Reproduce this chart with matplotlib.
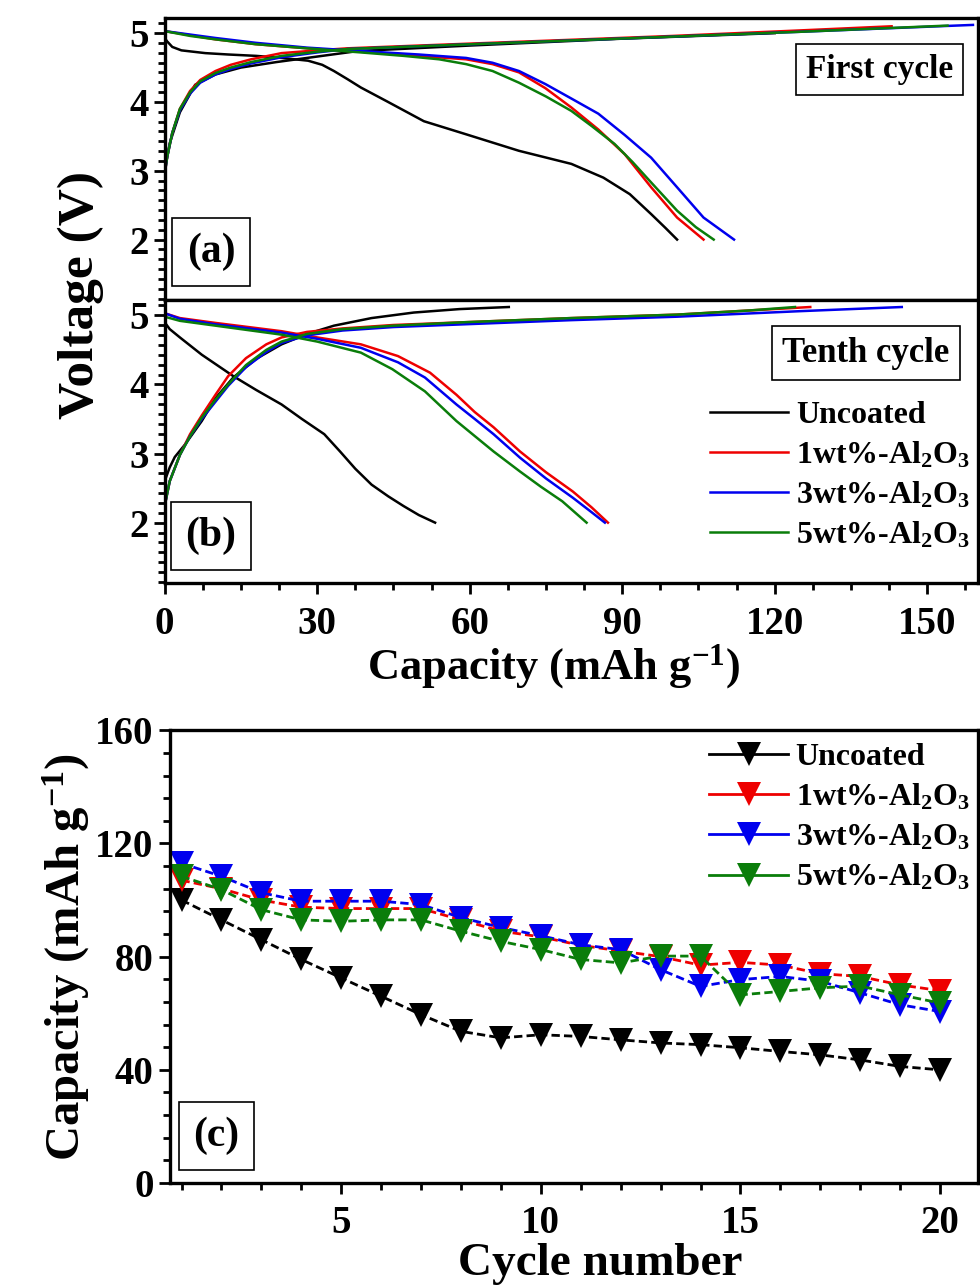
import matplotlib
matplotlib.use("Agg")
import matplotlib.pyplot as plt
from matplotlib.lines import Line2D
from matplotlib.ticker import MultipleLocator, AutoMinorLocator

# ---- data ----
labels = ["Uncoated", r"1wt%-Al$_2$O$_3$", r"3wt%-Al$_2$O$_3$", r"5wt%-Al$_2$O$_3$"]
colors = ["black", "#ee0000", "#0000ee", "#0a7d0a"]

# (a) first cycle, charge curves
a_chg_cap_unc = [0, 1, 3, 6, 10, 15, 22, 30, 38, 60, 90, 120]
a_chg_v_unc = [3.0, 3.4, 3.85, 4.25, 4.4, 4.5, 4.58, 4.66, 4.74, 4.82, 4.92, 5.0]
a_chg_cap_1 = [0, 0.5, 1.5, 3, 5, 7, 10, 13, 17, 23, 30, 36, 50, 75, 100, 125, 143]
a_chg_v_1 = [2.95, 3.2, 3.55, 3.9, 4.16, 4.32, 4.45, 4.54, 4.62, 4.71, 4.75, 4.78, 4.82, 4.89, 4.96, 5.04, 5.1]
a_chg_cap_3 = [0, 0.5, 1.5, 3, 5, 7, 10, 13, 17, 23, 30, 36, 50, 75, 100, 125, 159]
a_chg_v_3 = [2.95, 3.2, 3.55, 3.88, 4.12, 4.28, 4.4, 4.48, 4.56, 4.65, 4.72, 4.77, 4.81, 4.88, 4.95, 5.02, 5.12]
a_chg_cap_5 = [0, 0.5, 1.5, 3, 5, 7, 10, 13, 17, 23, 30, 36, 50, 75, 100, 125, 154]
a_chg_v_5 = [2.95, 3.2, 3.55, 3.9, 4.14, 4.3, 4.42, 4.5, 4.58, 4.67, 4.73, 4.77, 4.81, 4.88, 4.95, 5.02, 5.11]

# (a) first cycle, discharge curves
a_dis_cap_unc = [0, 0.5, 1.5, 3.3, 8, 12.5, 18, 23, 28.2, 31, 33.3, 36, 38.6, 43.7, 51, 59.3,
                 69.7, 80, 86.3, 91.5, 95.7, 98.5, 100.8]
a_dis_v_unc = [4.93, 4.88, 4.8, 4.75, 4.71, 4.69, 4.67, 4.64, 4.6, 4.54, 4.45, 4.33, 4.21, 4.01, 3.72, 3.53,
               3.29, 3.1, 2.9, 2.66, 2.37, 2.17, 2.0]
a_dis_cap_1 = [0, 5, 10, 17.9, 28, 38.6, 50, 59.3, 64.5, 69.7, 74.9, 80, 85.3, 90.5, 95.7, 100.8, 106]
a_dis_v_1 = [5.03, 4.97, 4.91, 4.84, 4.78, 4.73, 4.67, 4.62, 4.55, 4.43, 4.2, 3.92, 3.6, 3.24, 2.76, 2.32, 2.0]
a_dis_cap_3 = [0, 5, 10, 17.9, 28, 38.6, 50, 59.3, 64.5, 69.7, 74.9, 80, 85.3, 90.5, 95.7, 100.8, 106, 112]
a_dis_v_3 = [5.03, 4.98, 4.93, 4.86, 4.79, 4.74, 4.69, 4.64, 4.57, 4.45, 4.26, 4.05, 3.83, 3.52, 3.19, 2.76, 2.32, 2.0]
a_dis_cap_5 = [0, 5, 10, 17.9, 28, 38.6, 47, 54, 59.3, 64.5, 69.7, 75, 80, 84, 88.5, 92, 95.7, 100.8, 104.5, 108]
a_dis_v_5 = [5.03, 4.96, 4.91, 4.84, 4.78, 4.72, 4.67, 4.62, 4.55, 4.45, 4.28, 4.08, 3.87, 3.65, 3.39, 3.13,
             2.83, 2.42, 2.18, 2.0]

# (b) tenth cycle, charge curves
b_chg_cap_unc = [0, 1, 2, 4, 7.3, 10, 13.5, 18, 23, 28, 33.3, 40.7, 49, 58, 67.7]
b_chg_v_unc = [2.6, 2.8, 2.95, 3.13, 3.47, 3.8, 4.1, 4.37, 4.58, 4.73, 4.85, 4.96, 5.04, 5.09, 5.12]
b_chg_cap_1 = [0, 1, 3, 5, 7.3, 10, 12.5, 16, 20, 23, 28, 35, 45, 59, 80, 100.8, 115, 127]
b_chg_v_1 = [2.24, 2.6, 2.98, 3.28, 3.55, 3.85, 4.12, 4.38, 4.58, 4.68, 4.76, 4.81, 4.86, 4.9, 4.96, 5.01, 5.07, 5.12]
b_chg_cap_3 = [0, 1, 3, 5, 7.3, 10, 12.5, 16, 20, 23, 28, 35, 45, 59, 80, 100.8, 125, 145]
b_chg_v_3 = [2.24, 2.6, 2.98, 3.25, 3.5, 3.75, 3.98, 4.25, 4.47, 4.6, 4.71, 4.78, 4.83, 4.87, 4.93, 4.98, 5.06, 5.12]
b_chg_cap_5 = [0, 1, 3, 5, 7.3, 10, 12.5, 16, 20, 23, 28, 35, 45, 59, 80, 100.8, 115, 124]
b_chg_v_5 = [2.24, 2.6, 2.98, 3.25, 3.52, 3.78, 4.0, 4.28, 4.5, 4.62, 4.73, 4.8, 4.85, 4.9, 4.96, 5.01, 5.07, 5.12]

# (b) tenth cycle, discharge curves
b_dis_cap_unc = [0, 1, 3, 7.3, 13.5, 18, 23, 27, 31.4, 34.5, 37.5, 40.7, 44, 47, 50, 53.2]
b_dis_v_unc = [4.9, 4.8, 4.68, 4.43, 4.12, 3.92, 3.71, 3.5, 3.28, 3.03, 2.78, 2.55, 2.38, 2.24, 2.11, 2.0]
b_dis_cap_1 = [0, 3, 10, 23, 30, 38.6, 45.9, 52.2, 57.4, 61, 64.7, 69.9, 75, 80.3, 84, 87.2]
b_dis_v_1 = [5.03, 4.96, 4.89, 4.77, 4.68, 4.58, 4.41, 4.17, 3.85, 3.6, 3.38, 3.03, 2.73, 2.45, 2.22, 2.0]
b_dis_cap_3 = [0, 3, 10, 23, 30, 38.6, 45.9, 51.2, 57.4, 61, 64.7, 69.9, 75, 80.3, 84, 86.6]
b_dis_v_3 = [5.03, 4.95, 4.87, 4.75, 4.66, 4.53, 4.32, 4.1, 3.71, 3.5, 3.28, 2.94, 2.64, 2.36, 2.15, 2.0]
b_dis_cap_5 = [0, 3, 10, 23, 30, 38.6, 44.8, 51.2, 57.4, 64.7, 69.9, 74, 78.2, 83]
b_dis_v_5 = [4.98, 4.92, 4.85, 4.72, 4.62, 4.46, 4.22, 3.9, 3.47, 3.03, 2.74, 2.52, 2.31, 2.0]

# (c) cycling
cycles = list(range(1, 21))
cap_unc = [100, 93, 86, 79, 72.5, 66, 59.5, 53.6, 51.3, 52.4, 51.8, 50.6, 49.5, 48.9, 47.8, 46.5, 45.3, 43.5, 41.2, 40]
cap_1 = [107, 104, 100, 97.5, 97, 97, 97, 93, 89, 87, 84, 82, 80, 77, 78, 77, 74, 73, 70, 68]
cap_3 = [113, 108.4, 102.6, 99.6, 99.6, 99.6, 98.4, 93.8, 90.3, 87.4, 84.2, 82.5, 75.4, 69.5, 71.9, 73, 71.3, 67.2, 63, 60.6]
cap_5 = [108.4, 103.7, 96.6, 93, 92.5, 93, 93, 89, 85.4, 82.5, 79, 77.8, 80.2, 80.2, 66.5, 67.7, 69, 69.6, 66.5, 63.6]

plt.rcParams["font.family"] = ["Liberation Serif", "DejaVu Serif"]
plt.rcParams["font.weight"] = "bold"
plt.rcParams["mathtext.fontset"] = "custom"
plt.rcParams["mathtext.rm"] = "Liberation Serif:bold"
plt.rcParams["mathtext.it"] = "Liberation Serif:bold"
plt.rcParams["mathtext.bf"] = "Liberation Serif:bold"
plt.rcParams["axes.linewidth"] = 2.4


def style_axis(ax, fs=28):
    ax.tick_params(which="both", direction="out", width=2, labelsize=fs)
    ax.tick_params(which="major", length=8)
    ax.tick_params(which="minor", length=5)
    ax.tick_params(axis="x", which="major", pad=8)
    for lab in ax.get_xticklabels() + ax.get_yticklabels():
        lab.set_fontweight("bold")


def boxed(ax, x, y, s, fs, pad=0.3):
    ax.text(x, y, s, transform=ax.transAxes, ha="center", va="center", fontsize=fs,
            fontweight="bold", zorder=10,
            bbox=dict(boxstyle="square,pad=%s" % pad, fc="white", ec="black", lw=1.2))


fig = plt.figure(figsize=(9.8, 12.88), dpi=100)
ax_a = fig.add_axes([0.168, 0.767, 0.83, 0.219])
ax_b = fig.add_axes([0.168, 0.547, 0.83, 0.220])
ax_c = fig.add_axes([0.173, 0.0815, 0.825, 0.3515])

lw = 1.8
a_chg = [(a_chg_cap_unc, a_chg_v_unc), (a_chg_cap_1, a_chg_v_1), (a_chg_cap_3, a_chg_v_3), (a_chg_cap_5, a_chg_v_5)]
a_dis = [(a_dis_cap_unc, a_dis_v_unc), (a_dis_cap_1, a_dis_v_1), (a_dis_cap_3, a_dis_v_3), (a_dis_cap_5, a_dis_v_5)]
b_chg = [(b_chg_cap_unc, b_chg_v_unc), (b_chg_cap_1, b_chg_v_1), (b_chg_cap_3, b_chg_v_3), (b_chg_cap_5, b_chg_v_5)]
b_dis = [(b_dis_cap_unc, b_dis_v_unc), (b_dis_cap_1, b_dis_v_1), (b_dis_cap_3, b_dis_v_3), (b_dis_cap_5, b_dis_v_5)]

for i in range(4):
    ax_a.plot(*a_chg[i], color=colors[i], lw=lw)
    ax_a.plot(*a_dis[i], color=colors[i], lw=lw)
    ax_b.plot(*b_chg[i], color=colors[i], lw=lw, label=labels[i])
    ax_b.plot(*b_dis[i], color=colors[i], lw=lw)

for ax in (ax_a, ax_b):
    ax.set_xlim(0, 160)
    ax.set_ylim(1.12, 5.22)
    ax.yaxis.set_major_locator(MultipleLocator(1))
    ax.yaxis.set_minor_locator(AutoMinorLocator(7))
    ax.xaxis.set_major_locator(MultipleLocator(30))
    ax.xaxis.set_minor_locator(MultipleLocator(7.5))
    style_axis(ax)

ax_a.tick_params(axis="x", which="both", bottom=False, labelbottom=False)

boxed(ax_a, 0.057, 0.17, "(a)", 30, 0.35)
boxed(ax_b, 0.057, 0.167, "(b)", 30, 0.35)
boxed(ax_a, 0.879, 0.816, "First cycle", 24)
boxed(ax_b, 0.862, 0.812, "Tenth cycle", 25)

leg_kw = dict(frameon=False, fontsize=23, handlelength=2.45, handletextpad=0.25,
              labelspacing=0.3, borderaxespad=0)
ax_b.legend(loc="upper left", bbox_to_anchor=(0.655, 0.69), **leg_kw)

fig.text(0.082, 0.771, "Voltage (V)", rotation=90, ha="center", va="center", fontsize=37, fontweight="bold")
fig.text(0.565, 1 - 667 / 1288, r"Capacity (mAh g$^{-1}$)", ha="center", va="center", fontsize=32,
         fontweight="bold")

# (c) capacity vs cycle
series = [cap_unc, cap_1, cap_3, cap_5]
handles = []
for i in range(4):
    ax_c.plot(cycles, series[i], color=colors[i], lw=2, linestyle=(0, (3, 1.5)),
              marker="v", markersize=17, markeredgewidth=0)
    handles.append(Line2D([], [], color=colors[i], lw=2, marker="v", markersize=17, markeredgewidth=0))

ax_c.set_xlim(0.7, 20.95)
ax_c.set_ylim(0, 160)
ax_c.xaxis.set_major_locator(MultipleLocator(5))
ax_c.xaxis.set_minor_locator(MultipleLocator(1))
ax_c.yaxis.set_major_locator(MultipleLocator(40))
ax_c.yaxis.set_minor_locator(AutoMinorLocator(5))
style_axis(ax_c)
boxed(ax_c, 0.058, 0.104, "(c)", 30, 0.35)

ax_c.legend(handles, labels, loc="upper left", bbox_to_anchor=(0.652, 1.0), **leg_kw)

fig.text(0.613, 1 - 1264 / 1288, "Cycle number", ha="center", va="center", fontsize=34, fontweight="bold")
ax_c.set_ylabel(r"Capacity (mAh g$^{-1}$)", fontsize=35, fontweight="bold", labelpad=2)

fig.savefig("out.png", dpi=100)
